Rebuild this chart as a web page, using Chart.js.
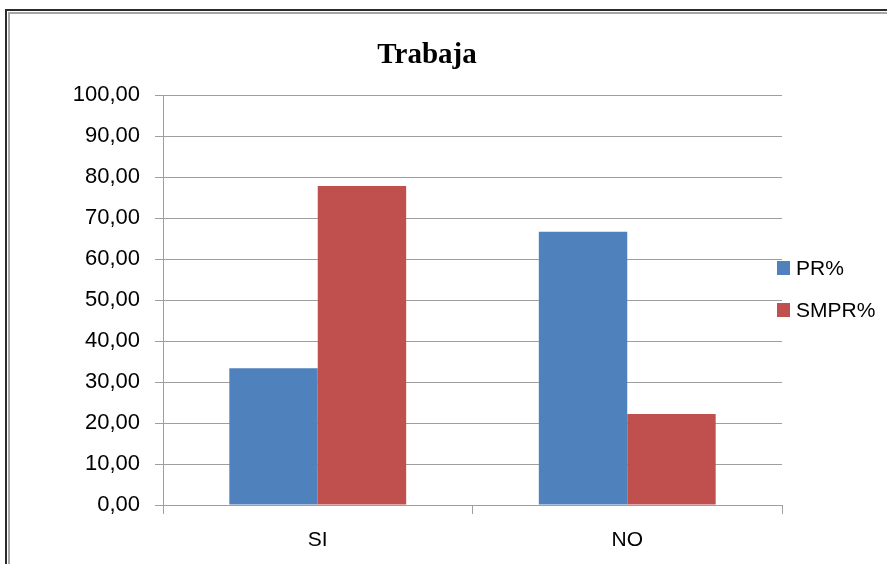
<!DOCTYPE html>
<html>
<head>
<meta charset="utf-8">
<script src="https://cdn.jsdelivr.net/npm/chart.js@4/dist/chart.umd.min.js"></script>
<style>
  html, body { margin: 0; padding: 0; background: #fff; }
  #wrap { position: relative; width: 887px; height: 564px; }
</style>
</head>
<body>
<div id="wrap"><canvas id="chart" width="887" height="564"></canvas></div>
<script>
"use strict";

var chartTitle = "Trabaja";
var categories = ["SI", "NO"];
var seriesNames = ["PR%", "SMPR%"];
var prValues = [33.33, 66.67];
var smprValues = [77.78, 22.22];
var seriesColors = ["#4F81BD", "#C0504D"];

var tickFont = "Liberation Sans, Arial, sans-serif";

// frame, title and legend drawn by hand, like the office chart
var decorPlugin = {
  id: "decor",
  beforeDraw: function (chart) {
    let ctx = chart.ctx;
    ctx.save();
    ctx.fillStyle = "#fff";
    ctx.fillRect(0, 0, chart.width, chart.height);
    // double frame on top / left
    ctx.fillStyle = "#2b2b2b";
    ctx.fillRect(5, 9, 2, chart.height);
    ctx.fillRect(5, 9, chart.width, 2);
    ctx.fillStyle = "#a6a6a6";
    ctx.fillRect(8, 12, 2, chart.height);
    ctx.fillRect(8, 12, chart.width, 2);
    ctx.restore();
  },
  afterDraw: function (chart) {
    let ctx = chart.ctx;
    ctx.save();
    ctx.fillStyle = "#000";
    ctx.font = "bold 29px 'Liberation Serif', 'Times New Roman', serif";
    ctx.textAlign = "center";
    ctx.textBaseline = "alphabetic";
    ctx.fillText(chartTitle, 427, 63);

    ctx.font = "21px " + tickFont;
    ctx.textAlign = "left";
    ctx.textBaseline = "middle";
    chart.data.datasets.forEach((ds, idx) => {
      let y = 268 + idx * 42;
      ctx.fillStyle = ds.backgroundColor;
      ctx.fillRect(777, y - 7, 13, 14);
      ctx.fillStyle = "#000";
      ctx.fillText(ds.label, 796, y + 1);
    });
    ctx.restore();
  },
};

new Chart(document.getElementById("chart"), {
  type: "bar",
  data: {
    labels: categories,
    datasets: [
      {
        label: seriesNames[0],
        data: prValues,
        backgroundColor: seriesColors[0],
      },
      {
        label: seriesNames[1],
        data: smprValues,
        backgroundColor: seriesColors[1],
      },
    ],
  },
  options: {
    responsive: false,
    animation: false,
    devicePixelRatio: 1,
    layout: {
      padding: { left: 0, right: 105, top: 95, bottom: 0 },
    },
    plugins: {
      legend: { display: false },
      title: { display: false },
      tooltip: { enabled: false },
    },
    datasets: {
      bar: {
        categoryPercentage: 0.5714,
        barPercentage: 1.0,
      },
    },
    scales: {
      x: {
        afterFit: function (scale) {
          scale.height = 59;
        },
        grid: {
          offset: true,
          drawOnChartArea: false,
          drawTicks: true,
          tickLength: 9,
          color: "#9f9f9f",
        },
        border: { color: "#9f9f9f" },
        ticks: {
          color: "#000",
          padding: 14,
          font: { family: tickFont, size: 21 },
        },
      },
      y: {
        min: 0,
        max: 100,
        afterFit: function (scale) {
          scale.width = 163;
        },
        grid: {
          color: "#9f9f9f",
          tickLength: 8,
        },
        border: { color: "#9f9f9f" },
        ticks: {
          stepSize: 10,
          color: "#000",
          padding: 15,
          font: { family: tickFont, size: 22 },
          callback: function (value) {
            return value.toFixed(2).replace(".", ",");
          },
        },
      },
    },
  },
  plugins: [decorPlugin],
});
</script>
</body>
</html>
